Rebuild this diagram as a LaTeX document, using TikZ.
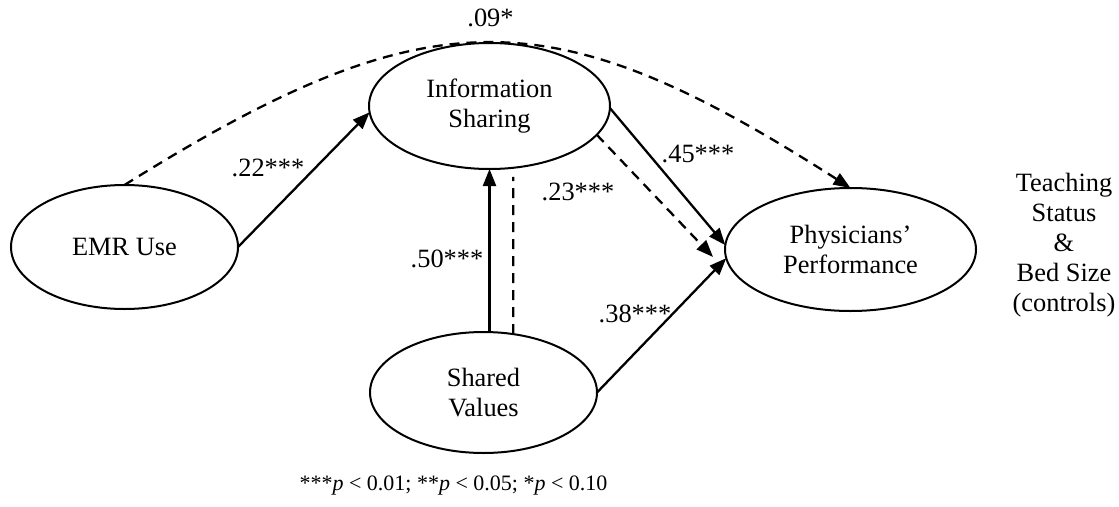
\documentclass[tikz,border=0pt]{standalone}
\usepackage{fontspec}
\setmainfont{Liberation Serif}
\usetikzlibrary{arrows.meta,shapes.geometric}
\begin{document}
\begin{tikzpicture}[x=1pt,y=-1pt,
  every node/.style={font=\fontsize{26.4}{30}\selectfont},
  latent/.style={draw, ellipse, line width=2pt, inner sep=0pt, outer sep=0pt, align=center},
  conn/.style={line width=2.3pt, -{Triangle[length=17pt,width=13pt]}},
  dconn/.style={line width=2.3pt, dash pattern=on 10pt off 7pt, -{Triangle[length=17pt,width=13pt]}},
  dline/.style={line width=2.3pt, dash pattern=on 10pt off 7pt},
  coef/.style={anchor=base, inner sep=0pt}]
\useasboundingbox (0,0) rectangle (1119,506);
\node[latent, minimum width=227pt, minimum height=124pt] (emr) at (124.5,247) {EMR Use};
\node[latent, minimum width=241pt, minimum height=126pt] (info) at (489.5,106) {Information\\Sharing};
\node[latent, minimum width=251pt, minimum height=123pt] (phys) at (850.5,249.5) {Physicians’\\Performance};
\node[latent, minimum width=227pt, minimum height=121pt] (shared) at (483.5,392.5) {Shared\\Values};
\node[align=center, inner sep=0pt] (ctrl) at (1064,245) {Teaching\\Status\\\&\\Bed Size\\(controls)};
\coordinate (dtip) at (713,257);
% connectors
\draw[conn] (emr.east) -- (info.183);
\draw[dconn] (emr.north) .. controls (431,-6.6) and (553,-2.5) .. (phys.north);
\draw[conn] (info.-1) -- (phys.178);
\draw[dconn] (info.-15) -- (dtip);
\draw[conn] (info.south |- shared.north) -- (info.south);
\draw[dline, shorten >=9pt] (shared.63) -- (info.-69);
\draw[conn] (shared.east) -- (phys.184);
% coefficients
\node[coef] (c09) at (490.5,27) {.09*};
\node[coef] (c22) at (268,176) {.22***};
\node[coef] (c45) at (698,162) {.45***};
\node[coef] (c23) at (578,200) {.23***};
\node[coef] (c50) at (447,267) {.50***};
\node[coef] (c38) at (635,322) {.38***};
\node[coef, font=\fontsize{22}{26}\selectfont] (note) at (453.5,490) {***\textit{p} < 0.01; **\textit{p} < 0.05; *\textit{p} < 0.10};
\end{tikzpicture}
\end{document}
